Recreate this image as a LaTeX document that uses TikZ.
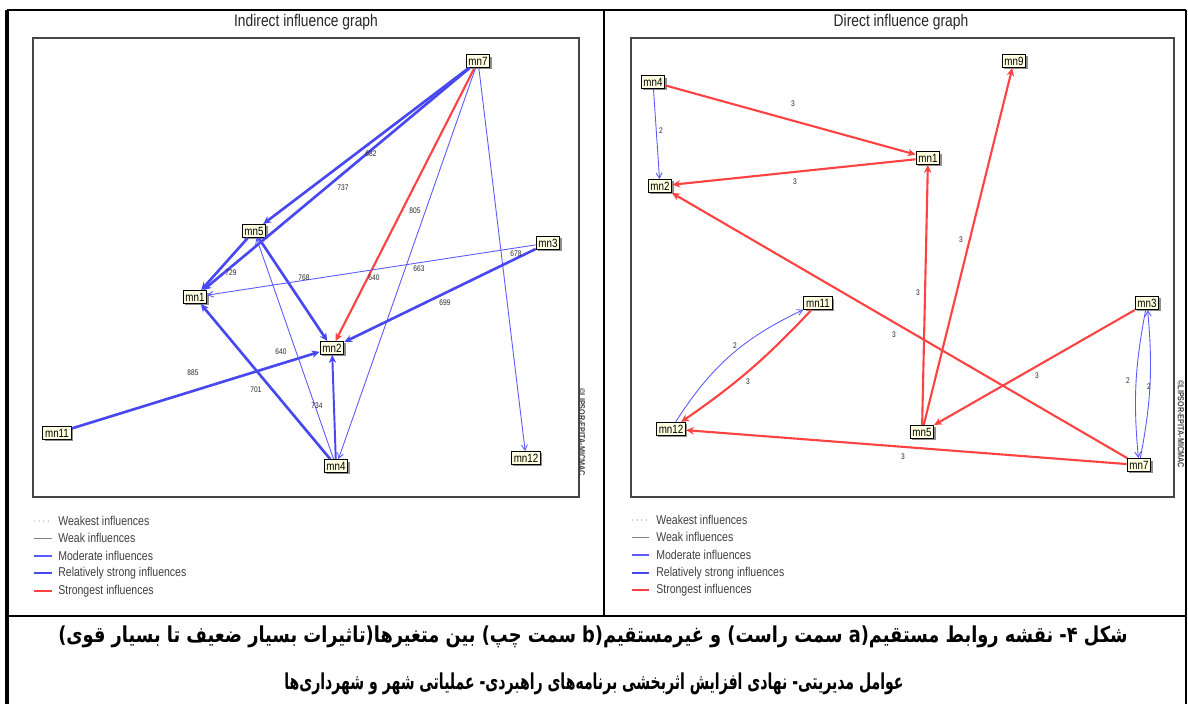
\documentclass[tikz,border=0pt]{standalone}
\usepackage{fontspec}
\setmainfont{Liberation Sans}
\newfontfamily\narrowfont[FakeStretch=0.82]{Liberation Sans}
\newfontfamily\arabicfont[Script=Arabic, FakeStretch=0.64]{DejaVu Sans}
\newfontfamily\arabicwide[Script=Arabic, FakeStretch=0.81]{DejaVu Sans}
\TeXXeTstate=1
\usetikzlibrary{arrows.meta, shadows, positioning}
\definecolor{modblue}{RGB}{90,90,255}
\definecolor{strongblue}{RGB}{72,72,240}
\definecolor{topred}{RGB}{255,66,66}
\definecolor{boxfill}{RGB}{255,255,226}
\definecolor{framegray}{RGB}{70,70,70}
\tikzset{
  var/.style={draw=black, fill=boxfill, line width=0.6pt, inner sep=1.3pt,
    font=\narrowfont\fontsize{6.8}{7}\selectfont,
    drop shadow={shadow xshift=1.1pt, shadow yshift=-1.1pt, fill=black!55, opacity=0.8}},
  wlabel/.style={font=\narrowfont\fontsize{4.6}{5}\selectfont, inner sep=0pt, text=black!85},
  moderate/.style={draw=modblue, line width=0.5pt, -{Straight Barb[length=3pt,width=3.4pt]}},
  rstrong/.style={draw=strongblue, line width=1.5pt, -{Stealth[length=4.5pt,width=4.2pt]}},
  strongest/.style={draw=topred, line width=1.2pt, -{Stealth[length=4.5pt,width=4.2pt]}},
  gtitle/.style={font=\narrowfont\fontsize{9.6}{11}\selectfont, text=black!85},
  legtext/.style={anchor=west, inner sep=0pt, font=\narrowfont\fontsize{7.3}{8}\selectfont, text=black!75},
  stamp/.style={rotate=-90, inner sep=0pt, font=\narrowfont\bfseries\fontsize{5}{5}\selectfont, text=black!75},
  captext/.style={inner sep=0pt}
}

\begin{document}
\TeXXeTstate=1
\begin{tikzpicture}[x=0.02cm, y=-0.02cm]
  \useasboundingbox (0, 0) rectangle (1188, 704);
  \fill[white] (0, 0) rectangle (1188, 704);

  % table rules
  \draw[line width=1.6pt] (7, 10) -- (1186, 10);
  \draw[line width=1.8pt] (7, 10) -- (7, 704);
  \draw[line width=1.4pt] (1186, 10) -- (1186, 704);
  \draw[line width=1.2pt] (604, 10) -- (604, 616);
  \draw[line width=1.2pt] (7, 616) -- (1186, 616);

  % ---- indirect graph ----
  \node[gtitle] (ititle) at (306, 22) {Indirect influence graph};
  \draw[framegray, line width=0.7pt] (33, 38) rectangle (579, 497);
  \node[stamp] (istamp) at (582, 432) {©LIPSOR-EPITA-MICMAC};

  \node[var] (imn7) at (478, 61) {mn7};
  \node[var] (imn5) at (254, 231) {mn5};
  \node[var] (imn3) at (548, 243) {mn3};
  \node[var] (imn1) at (195, 297) {mn1};
  \node[var] (imn2) at (332, 348) {mn2};
  \node[var] (imn11) at (57, 433) {mn11};
  \node[var] (imn4) at (336, 466) {mn4};
  \node[var] (imn12) at (526, 458) {mn12};

  \draw[rstrong] (imn7) -- (imn5);
  \draw[rstrong] (imn7) -- (imn1);
  \draw[strongest] (imn7) -- (imn2);
  \draw[moderate] (imn7) -- (imn4);
  \draw[moderate] (imn7) -- (imn12);
  \draw[rstrong] (imn5) -- (imn1);
  \draw[rstrong] (imn5) -- (imn2);
  \draw[moderate] (imn3) -- (imn1);
  \draw[rstrong] (imn3) -- (imn2);
  \draw[rstrong] (imn11) -- (imn2);
  \draw[rstrong] (imn4) -- (imn1);
  \draw[rstrong, line width=1.1pt] (imn4) -- (imn2);
  \draw[moderate] (imn4) -- (imn5);

  \node[wlabel] (w682) at (371, 154) {682};
  \node[wlabel] (w737) at (343, 188) {737};
  \node[wlabel] (w805) at (415, 211) {805};
  \node[wlabel] (w678) at (516, 254) {678};
  \node[wlabel] (w729) at (231, 273) {729};
  \node[wlabel] (w768) at (304, 278) {768};
  \node[wlabel] (w640a) at (374, 278) {640};
  \node[wlabel] (w663) at (419, 269) {663};
  \node[wlabel] (w699) at (445, 303) {699};
  \node[wlabel] (w640b) at (281, 352) {640};
  \node[wlabel] (w885) at (193, 373) {885};
  \node[wlabel] (w701) at (256, 390) {701};
  \node[wlabel] (w734) at (317, 406) {734};

  % legend
  \draw[gray!35, dotted, line width=0.6pt] (34, 521) -- (52, 521);
  \draw[gray, line width=0.5pt] (34, 538) -- (52, 538);
  \draw[modblue, line width=0.6pt] (34, 556) -- (52, 556);
  \draw[strongblue, line width=1.5pt] (34, 573) -- (52, 573);
  \draw[topred, line width=1.2pt] (34, 591) -- (52, 591);
  \node[legtext] (ilg1) at (58, 521) {Weakest influences};
  \node[legtext] (ilg2) at (58, 538) {Weak influences};
  \node[legtext] (ilg3) at (58, 556) {Moderate influences};
  \node[legtext] (ilg4) at (58, 573) {Relatively strong influences};
  \node[legtext] (ilg5) at (58, 591) {Strongest influences};

  % ---- direct graph ----
  \node[gtitle] (dtitle) at (901, 22) {Direct influence graph};
  \draw[framegray, line width=0.7pt] (631, 38) rectangle (1174, 497);
  \node[stamp] (dstamp) at (1181, 424) {©LIPSOR-EPITA-MICMAC};

  \node[var] (dmn4) at (653, 82) {mn4};
  \node[var] (dmn9) at (1014, 61) {mn9};
  \node[var] (dmn1) at (928, 158) {mn1};
  \node[var] (dmn2) at (660, 186) {mn2};
  \node[var] (dmn11) at (818, 303) {mn11};
  \node[var] (dmn3) at (1147, 303) {mn3};
  \node[var] (dmn12) at (671, 429) {mn12};
  \node[var] (dmn5) at (922, 432) {mn5};
  \node[var] (dmn7) at (1139, 465) {mn7};

  \draw[strongest] (dmn4) -- (dmn1);
  \draw[moderate] (dmn4) -- (dmn2);
  \draw[strongest] (dmn1) -- (dmn2);
  \draw[strongest] (dmn5) -- (dmn9);
  \draw[strongest] (dmn5) -- (dmn1);
  \draw[strongest] (dmn7) -- (dmn2);
  \draw[moderate] (dmn12) to[bend left=16] (dmn11);
  \draw[strongest] (dmn11) to[bend left=6] (dmn12);
  \draw[strongest] (dmn3) -- (dmn5);
  \draw[moderate] (dmn3) to[bend right=8] (dmn7);
  \draw[moderate] (dmn7) to[bend right=8] (dmn3);
  \draw[strongest] (dmn7) -- (dmn12);

  \node[wlabel] (v1) at (793, 104) {3};
  \node[wlabel] (v2) at (661, 131) {2};
  \node[wlabel] (v3) at (795, 182) {3};
  \node[wlabel] (v4) at (961, 240) {3};
  \node[wlabel] (v5) at (918, 293) {3};
  \node[wlabel] (v6) at (894, 335) {3};
  \node[wlabel] (v7) at (735, 346) {2};
  \node[wlabel] (v8) at (748, 382) {3};
  \node[wlabel] (v9) at (1037, 376) {3};
  \node[wlabel] (v10) at (1128, 381) {2};
  \node[wlabel] (v11) at (1149, 387) {2};
  \node[wlabel] (v12) at (903, 457) {3};

  % legend
  \draw[gray!45, dotted, line width=0.6pt] (632, 520) -- (649, 520);
  \draw[gray, line width=0.5pt] (632, 537) -- (649, 537);
  \draw[modblue, line width=0.6pt] (632, 555) -- (649, 555);
  \draw[strongblue, line width=1.5pt] (632, 573) -- (649, 573);
  \draw[topred, line width=1.2pt] (632, 590) -- (649, 590);
  \node[legtext] (dlg1) at (656, 520) {Weakest influences};
  \node[legtext] (dlg2) at (656, 537) {Weak influences};
  \node[legtext] (dlg3) at (656, 555) {Moderate influences};
  \node[legtext] (dlg4) at (656, 573) {Relatively strong influences};
  \node[legtext] (dlg5) at (656, 590) {Strongest influences};

  % caption
  \node[captext] (cap1) at (593, 637) {\arabicwide\bfseries\fontsize{12.5}{14}\selectfont\beginR شکل ۴- نقشه روابط مستقیم(\beginL a\endL{} سمت راست) و غیرمستقیم(\beginL b\endL{} سمت چپ) بین متغیرها(تاثیرات بسیار ضعیف تا بسیار قوی)\endR};
  \node[captext] (cap2) at (594, 684) {\arabicfont\bfseries\fontsize{12.5}{14}\selectfont\beginR عوامل مدیریتی- نهادی افزایش اثربخشی برنامه‌های راهبردی- عملیاتی شهر و شهرداری‌ها\endR};
\end{tikzpicture}
\end{document}
